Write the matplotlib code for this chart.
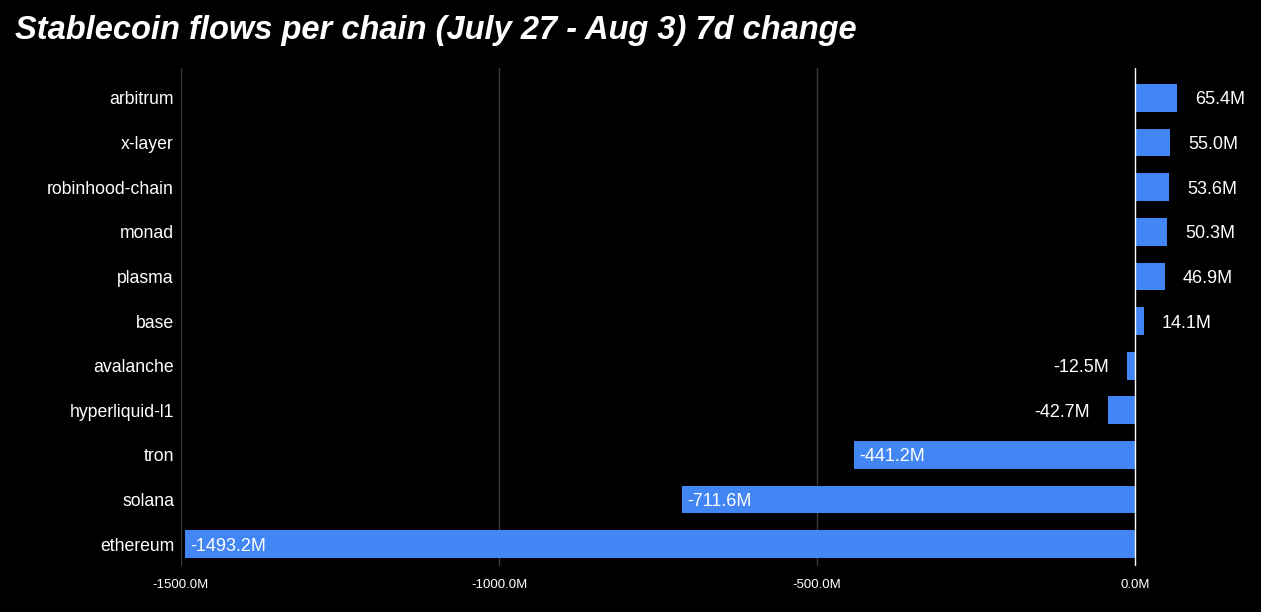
import numpy as np
import matplotlib.pyplot as plt

# data (millions)
chains = ['arbitrum', 'x-layer', 'robinhood-chain', 'monad', 'plasma', 'base',
          'avalanche', 'hyperliquid-l1', 'tron', 'solana', 'ethereum']
flows = [65.4, 55.0, 53.6, 50.3, 46.9, 14.1, -12.5, -42.7, -441.2, -711.6, -1493.2]
xticks = [-1500, -1000, -500, 0]

plt.rcParams['font.family'] = ['Liberation Sans', 'DejaVu Sans']

fig = plt.figure(figsize=(12.61, 6.12), dpi=100, facecolor='black')
ax = fig.add_axes([0.1435, 0.075, 0.8475, 0.814])
ax.set_facecolor('black')

y = np.arange(len(chains))
ax.barh(y, flows, height=0.62, color='#4285F4', zorder=3)

ax.set_xlim(-1500, 180)
ax.set_ylim(10.49, -0.67)

# grid + zero line
for v in xticks[:-1]:
    ax.axvline(v, color='#3a3a3a', lw=1, zorder=1)
ax.axvline(0, color='white', lw=1, zorder=4)

for s in ax.spines.values():
    s.set_visible(False)

ax.set_yticks(y)
ax.set_yticklabels(chains, color='white', fontsize=12.7)
ax.set_xticks(xticks)
ax.set_xticklabels(['%.1fM' % v for v in xticks], color='white', fontsize=9.5)
ax.tick_params(axis='both', length=0)
ax.tick_params(axis='y', pad=5)
ax.tick_params(axis='x', pad=9)

# value labels: outside for small bars, inside at the left end for big negatives
for i, v in enumerate(flows):
    txt = '%.1fM' % v
    if v >= 0:
        off, ha = 18, 'left'
    elif v > -100:
        off, ha = -18, 'right'
    else:
        off, ha = 5, 'left'
    ax.annotate(txt, (v, i), xytext=(off, 0), textcoords='offset pixels',
                ha=ha, va='center_baseline', color='white', fontsize=13, zorder=5)

fig.text(15 / 1261, 1 - 31 / 612, 'Stablecoin flows per chain (July 27 - Aug 3) 7d change',
         color='white', fontsize=23.5, fontweight='bold', fontstyle='italic',
         ha='left', va='center')

fig.savefig('out.png', dpi=100, facecolor='black')
